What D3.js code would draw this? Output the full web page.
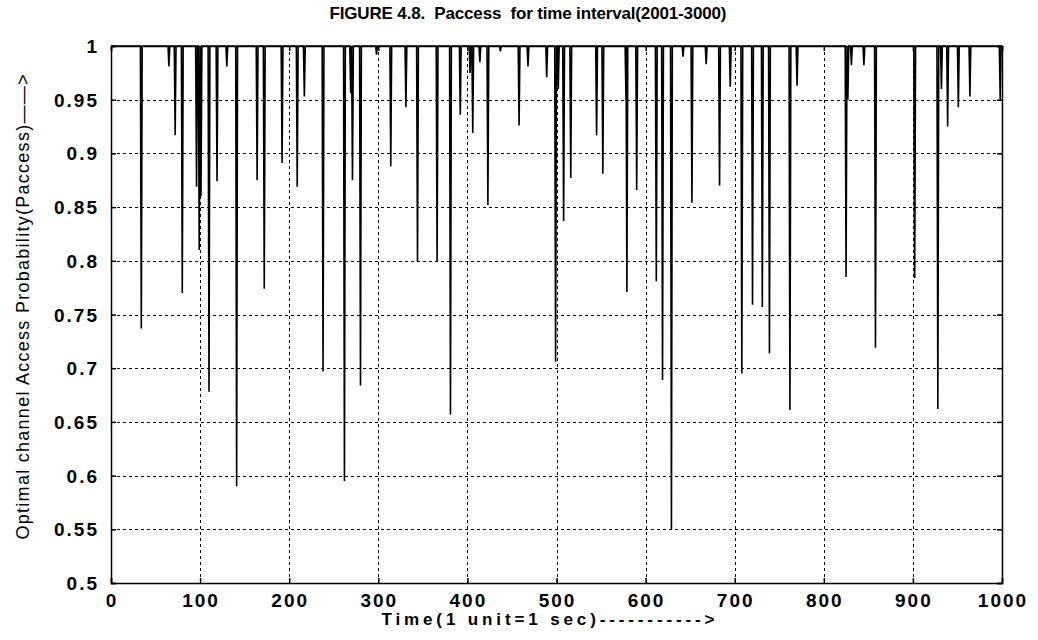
<!DOCTYPE html>
<html>
<head>
<meta charset="utf-8">
<script src="https://cdn.jsdelivr.net/npm/d3@7"></script>
<style>
  body { margin: 0; background: #fff; }
  svg text { font-family: 'Liberation Sans', Arial, sans-serif; fill: #000; }
</style>
</head>
<body>
<div id="chart"></div>
<script>
// Time (seconds within the interval) of each dip of Paccess
const spikeTimes = [34, 65, 72, 80, 96, 99, 101, 110, 119, 130, 141, 164, 172, 192, 209, 217, 238,
    262, 269, 271, 280, 298, 314, 331, 344, 366, 381, 392, 403, 406, 414, 423, 437, 458, 468, 489,
    499, 502, 508, 516, 545, 552, 578, 579, 590, 612, 619, 629, 642, 652, 668, 683, 695, 708, 720,
    731, 739, 762, 770, 825, 827, 831, 845, 858, 902, 928, 932, 939, 951, 964, 998];
// Lowest Paccess value reached at each of those times
const spikeValues = [0.737, 0.981, 0.917, 0.770, 0.869, 0.810, 0.860, 0.678, 0.874, 0.981, 0.590, 0.875, 0.774, 0.891, 0.869, 0.953, 0.697,
    0.595, 0.956, 0.875, 0.684, 0.992, 0.888, 0.943, 0.799, 0.799, 0.657, 0.936, 0.975, 0.919, 0.985, 0.852, 0.995, 0.926, 0.981, 0.971,
    0.706, 0.960, 0.837, 0.877, 0.917, 0.881, 0.950, 0.771, 0.866, 0.781, 0.689, 0.550, 0.990, 0.854, 0.983, 0.870, 0.962, 0.695, 0.759,
    0.757, 0.714, 0.661, 0.963, 0.785, 0.950, 0.982, 0.982, 0.719, 0.784, 0.662, 0.960, 0.925, 0.943, 0.953, 0.950];
// Value the series sits at between dips
const baseValue = 1;

const xTicks = [0, 100, 200, 300, 400, 500, 600, 700, 800, 900, 1000];
const yTicks = [0.5, 0.55, 0.6, 0.65, 0.7, 0.75, 0.8, 0.85, 0.9, 0.95, 1];

const titleText = 'FIGURE 4.8.  Paccess  for time interval(2001-3000)';
const xLabelText = 'Time(1 unit=1 sec)----------->';
const yLabelText = 'Optimal channel Access Probability(Paccess)\u2014\u2014>';

const width = 1038;
const height = 640;
const margin = {top: 46, right: 36, bottom: 57, left: 111};

const svg = d3.select('#chart')
    .append('svg')
        .attr('width', width)
        .attr('height', height);

const x = d3.scaleLinear()
    .domain([0, 1000])
    .range([margin.left, width - margin.right]);

const y = d3.scaleLinear()
    .domain([0.5, 1])
    .range([height - margin.bottom, margin.top]);

// Build the line: every dip is a V from the baseline down to its value and back
const points = [[0, baseValue]];
spikeTimes.forEach((t, i) => {
    points.push([t - 1, baseValue], [t, spikeValues[i]], [t + 1, baseValue]);
});
points.push([1000, baseValue]);

// Dotted grid
const grid = svg.append('g')
    .attr('stroke', '#000')
    .attr('stroke-width', 1)
    .attr('stroke-dasharray', '3,3');
grid.selectAll('.vgrid')
    .data(xTicks.slice(1, -1))
    .join('line')
        .attr('x1', d => Math.round(x(d)) + 0.5)
        .attr('x2', d => Math.round(x(d)) + 0.5)
        .attr('y1', y(1))
        .attr('y2', y(0.5));
grid.selectAll('.hgrid')
    .data(yTicks.slice(1, -1))
    .join('line')
        .attr('x1', x(0))
        .attr('x2', x(1000))
        .attr('y1', d => Math.round(y(d)) + 0.5)
        .attr('y2', d => Math.round(y(d)) + 0.5);

// Data line
svg.append('path')
    .datum(points)
    .attr('fill', 'none')
    .attr('stroke', '#000')
    .attr('stroke-width', 1.6)
    .attr('d', d3.line().x(d => x(d[0])).y(d => y(d[1])));

// Axes: ticks point inwards like matlab, labels drawn separately
svg.append('g')
    .attr('transform', `translate(0, ${y(0.5)})`)
    .call(d3.axisTop(x).tickValues(xTicks).tickSize(5).tickFormat(''));
svg.append('g')
    .attr('transform', `translate(0, ${y(1)})`)
    .call(d3.axisBottom(x).tickValues(xTicks).tickSize(5).tickFormat(''));
svg.append('g')
    .attr('transform', `translate(${x(0)}, 0)`)
    .call(d3.axisRight(y).tickValues(yTicks).tickSize(5).tickFormat(''));
svg.append('g')
    .attr('transform', `translate(${x(1000)}, 0)`)
    .call(d3.axisLeft(y).tickValues(yTicks).tickSize(5).tickFormat(''));
svg.selectAll('.domain').attr('stroke', '#000').attr('stroke-width', 1.5);
svg.selectAll('.tick line').attr('stroke', '#000').attr('stroke-width', 1.5);

// Tick labels
svg.append('g')
    .selectAll('text')
    .data(xTicks)
    .join('text')
        .attr('x', d => x(d) + 1)
        .attr('y', y(0.5) + 24)
        .attr('text-anchor', 'middle')
        .style('font-size', '19px')
        .style('font-weight', 'bold')
        .style('letter-spacing', '2px')
        .text(d => d);
svg.append('g')
    .selectAll('text')
    .data(yTicks)
    .join('text')
        .attr('x', x(0) - 12)
        .attr('y', d => y(d) + 7)
        .attr('text-anchor', 'end')
        .style('font-size', '19px')
        .style('font-weight', 'bold')
        .style('letter-spacing', '2px')
        .text(d => d);

// Title and axis labels
svg.append('text')
    .attr('x', 528)
    .attr('y', 19)
    .attr('text-anchor', 'middle')
    .attr('textLength', 397)
    .attr('lengthAdjust', 'spacing')
    .style('font-size', '17px')
    .style('font-weight', 'bold')
    .style('white-space', 'pre')
    .text(titleText);
svg.append('text')
    .attr('x', 548)
    .attr('y', 625)
    .attr('text-anchor', 'middle')
    .attr('textLength', 333)
    .attr('lengthAdjust', 'spacing')
    .style('font-size', '17px')
    .style('font-weight', 'bold')
    .text(xLabelText);
svg.append('text')
    .attr('transform', 'translate(29, 307) rotate(-90)')
    .attr('text-anchor', 'middle')
    .attr('textLength', 465)
    .attr('lengthAdjust', 'spacing')
    .style('font-size', '18px')
    .text(yLabelText);
</script>
</body>
</html>
